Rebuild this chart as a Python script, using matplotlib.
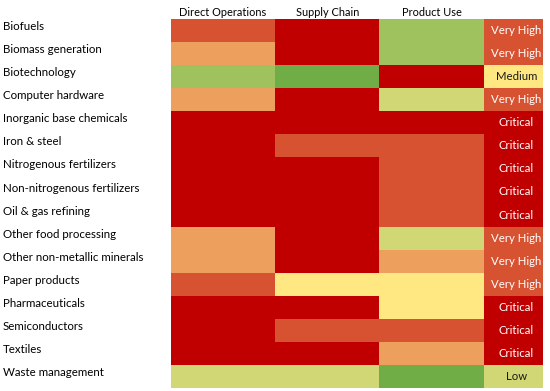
import numpy as np
import matplotlib
matplotlib.use("Agg")
from matplotlib import pyplot as plt
from matplotlib import colors
from matplotlib import transforms

# risk scale: 1 = lowest ... 7 = critical
sectors = ["Biofuels", "Biomass generation", "Biotechnology", "Computer hardware",
           "Inorganic base chemicals", "Iron & steel", "Nitrogenous fertilizers",
           "Non-nitrogenous fertilizers", "Oil & gas refining", "Other food processing",
           "Other non-metallic minerals", "Paper products", "Pharmaceuticals",
           "Semiconductors", "Textiles", "Waste management"]
columns = ["Direct Operations", "Supply Chain", "Product Use"]
direct_ops = [6, 5, 2, 5, 7, 7, 7, 7, 7, 5, 5, 6, 7, 7, 7, 3]
supply_chain = [7, 7, 1, 7, 7, 6, 7, 7, 7, 7, 7, 4, 7, 6, 7, 3]
product_use = [2, 2, 7, 3, 7, 6, 6, 6, 6, 3, 5, 4, 4, 6, 5, 1]
ratings = ["Very High", "Very High", "Medium", "Very High", "Critical", "Critical",
           "Critical", "Critical", "Critical", "Very High", "Very High", "Very High",
           "Critical", "Critical", "Critical", "Low"]
rating_level = {"Low": 3, "Medium": 4, "Very High": 6, "Critical": 7}

palette = ["#70AD47", "#9FC25E", "#D1D774", "#FFE882", "#EDA05E", "#D65231", "#C00000"]
cmap = colors.ListedColormap(palette)
norm = colors.BoundaryNorm(np.arange(0.5, 8.5, 1), cmap.N)

font = "Lato"
W, H = 550, 391
fig = plt.figure(figsize=(W / 100, H / 100), dpi=100)
ax = fig.add_axes([171 / W, 1 - 388 / H, (543 - 171) / W, (388 - 19) / H])

grid = np.column_stack([direct_ops, supply_chain, product_use,
                        [rating_level[r] for r in ratings]])
xedges = [0, 1, 2, 3, 3.57]
yedges = np.arange(len(sectors) + 1)
ax.pcolormesh(xedges, yedges, grid, cmap=cmap, norm=norm)
ax.set_xlim(0, 3.57)
ax.set_ylim(len(sectors), 0)

for i, r in enumerate(ratings):
    tc = "#1a1a1a" if r in ("Low", "Medium") else "white"
    ax.text(3.315, i + 0.5, r, ha="center", va="center", color=tc,
            fontsize=8.2, family=font)

# row labels at the left edge of the figure, sitting a bit above the row centre
trans = transforms.blended_transform_factory(fig.transFigure, ax.transData)
for i, s in enumerate(sectors):
    ax.text(3 / W, i + 0.33, s, transform=trans, ha="left", va="center",
            fontsize=8.3, family=font, color="#000000")

ax.xaxis.tick_top()
ax.set_xticks([0.5, 1.5, 2.5])
ax.set_xticklabels(columns, fontsize=7.9, family=font, color="#000000")
ax.tick_params(axis="x", length=0, pad=1.0)
ax.set_yticks([])
for sp in ax.spines.values():
    sp.set_visible(False)

fig.savefig("out.png", dpi=100)
